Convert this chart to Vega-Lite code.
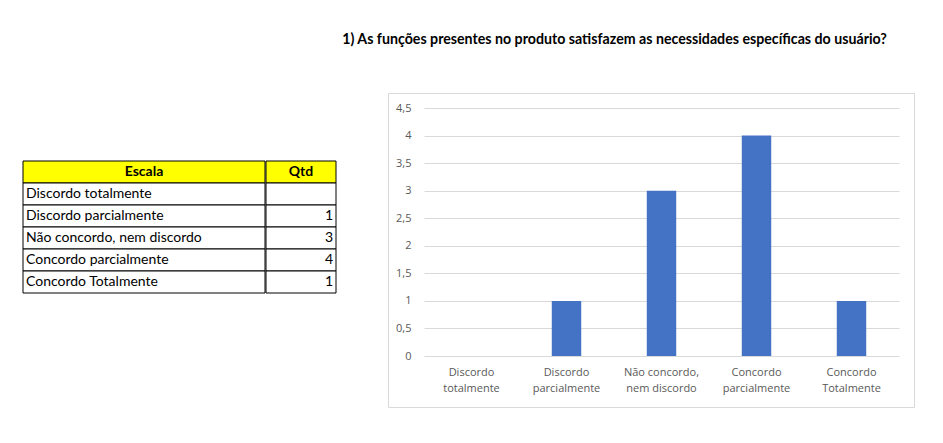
{
  "$schema": "https://vega.github.io/schema/vega-lite/v6.json",
  "padding": {"left": 22, "top": 33, "right": 0, "bottom": 0},
  "background": "white",
  "datasets": {
    "respostas": [
      {"Escala": "Discordo totalmente", "Qtd": null},
      {"Escala": "Discordo parcialmente", "Qtd": 1},
      {"Escala": "Não concordo, nem discordo", "Qtd": 3},
      {"Escala": "Concordo parcialmente", "Qtd": 4},
      {"Escala": "Concordo Totalmente", "Qtd": 1}
    ],
    "cabecalho": [{"Coluna": "Escala", "Linha": "Escala"}]
  },
  "title": {
    "text": "1) As funções presentes no produto satisfazem as necessidades específicas do usuário?",
    "anchor": "middle",
    "dx": 146,
    "font": "Lato",
    "fontSize": 14.2,
    "fontWeight": "bold",
    "color": "black",
    "offset": 45
  },
  "spacing": 50,
  "resolve": {"scale": {"x": "independent", "y": "independent"}},
  "hconcat": [
    {
      "spacing": -1,
      "resolve": {"scale": {"x": "independent", "y": "independent"}},
      "hconcat": [
        {
          "width": 242,
          "height": 314,
          "view": {"stroke": null},
          "layer": [
            {
              "data": {"name": "cabecalho"},
              "mark": {"type": "rect", "fill": "#ffff00", "stroke": "black", "strokeWidth": 1},
              "encoding": {
                "y": {"field": "Linha", "type": "nominal", "axis": null,
                  "scale": {"domain": ["Escala", "Discordo totalmente", "Discordo parcialmente", "Não concordo, nem discordo", "Concordo parcialmente", "Concordo Totalmente"], "range": [68, 200], "paddingInner": 0, "paddingOuter": 0}},
                "x": {"value": 0},
                "x2": {"value": "width"}
              }
            },
            {
              "data": {"name": "cabecalho"},
              "mark": {"type": "text", "font": "Lato", "fontSize": 14, "fontWeight": "bold", "color": "black", "baseline": "middle", "align": "center"},
              "encoding": {
                "y": {"field": "Linha", "type": "nominal"},
                "text": {"field": "Coluna"}
              }
            },
            {
              "data": {"name": "respostas"},
              "mark": {"type": "rect", "fill": "white", "stroke": "black", "strokeWidth": 1},
              "encoding": {
                "y": {"field": "Escala", "type": "nominal"},
                "x": {"value": 0},
                "x2": {"value": "width"}
              }
            },
            {
              "data": {"name": "respostas"},
              "mark": {"type": "text", "font": "Lato", "fontSize": 14, "color": "black", "baseline": "middle", "align": "left", "dx": 3},
              "encoding": {
                "y": {"field": "Escala", "type": "nominal"},
                "x": {"value": 0},
                "text": {"field": "Escala"}
              }
            }
          ]
        },
        {
          "width": 70,
          "height": 314,
          "view": {"stroke": null},
          "layer": [
            {
              "data": {"values": [{"Coluna": "Qtd", "Linha": "Escala"}]},
              "mark": {"type": "rect", "fill": "#ffff00", "stroke": "black", "strokeWidth": 1},
              "encoding": {
                "y": {"field": "Linha", "type": "nominal", "axis": null,
                  "scale": {"domain": ["Escala", "Discordo totalmente", "Discordo parcialmente", "Não concordo, nem discordo", "Concordo parcialmente", "Concordo Totalmente"], "range": [68, 200], "paddingInner": 0, "paddingOuter": 0}},
                "x": {"value": 0},
                "x2": {"value": "width"}
              }
            },
            {
              "data": {"values": [{"Coluna": "Qtd", "Linha": "Escala"}]},
              "mark": {"type": "text", "font": "Lato", "fontSize": 14, "fontWeight": "bold", "color": "black", "baseline": "middle", "align": "center"},
              "encoding": {
                "y": {"field": "Linha", "type": "nominal"},
                "text": {"field": "Coluna"}
              }
            },
            {
              "data": {"name": "respostas"},
              "mark": {"type": "rect", "fill": "white", "stroke": "black", "strokeWidth": 1},
              "encoding": {
                "y": {"field": "Escala", "type": "nominal"},
                "x": {"value": 0},
                "x2": {"value": "width"}
              }
            },
            {
              "data": {"name": "respostas"},
              "transform": [{"filter": "isValid(datum.Qtd)"}],
              "mark": {"type": "text", "font": "Lato", "fontSize": 14, "color": "black", "baseline": "middle", "align": "right", "dx": -3},
              "encoding": {
                "y": {"field": "Escala", "type": "nominal"},
                "x": {"value": "width"},
                "text": {"field": "Qtd", "type": "nominal"}
              }
            }
          ]
        }
      ]
    },
    {
      "width": 526,
      "height": 314,
      "view": {"stroke": "#d9d9d9", "strokeWidth": 1},
      "data": {"name": "respostas"},
      "mark": {"type": "bar", "color": "#4472c4"},
      "encoding": {
        "x": {
          "field": "Escala", "type": "nominal", "title": null,
          "scale": {"domain": ["Discordo totalmente", "Discordo parcialmente", "Não concordo, nem discordo", "Concordo parcialmente", "Concordo Totalmente"], "range": [36, 511], "paddingInner": 0.69, "paddingOuter": 0.345},
          "axis": {
            "labelAngle": 0, "domain": false, "ticks": false, "offset": -51, "labelPadding": 10,
            "labelFont": "Open Sans", "labelFontSize": 11, "labelColor": "#595959", "labelLineHeight": 16,
            "labelBaseline": "top",
            "labelExpr": "indexof(datum.label, ', ') > 0 ? [substring(datum.label, 0, indexof(datum.label, ', ') + 1), substring(datum.label, indexof(datum.label, ', ') + 2)] : split(datum.label, ' ')"
          }
        },
        "y": {
          "field": "Qtd", "type": "quantitative", "title": null,
          "scale": {"domain": [0, 4.5], "range": [263, 15], "nice": false, "zero": true},
          "axis": {
            "values": [0, 0.5, 1, 1.5, 2, 2.5, 3, 3.5, 4, 4.5],
            "domain": false, "ticks": false, "offset": -25, "labelPadding": 2,
            "labelFont": "Open Sans", "labelFontSize": 11, "labelColor": "#595959",
            "gridColor": "#d9d9d9", "gridWidth": 1,
            "labelExpr": "replace(toString(datum.value), '.', ',')"
          }
        }
      }
    }
  ]
}
